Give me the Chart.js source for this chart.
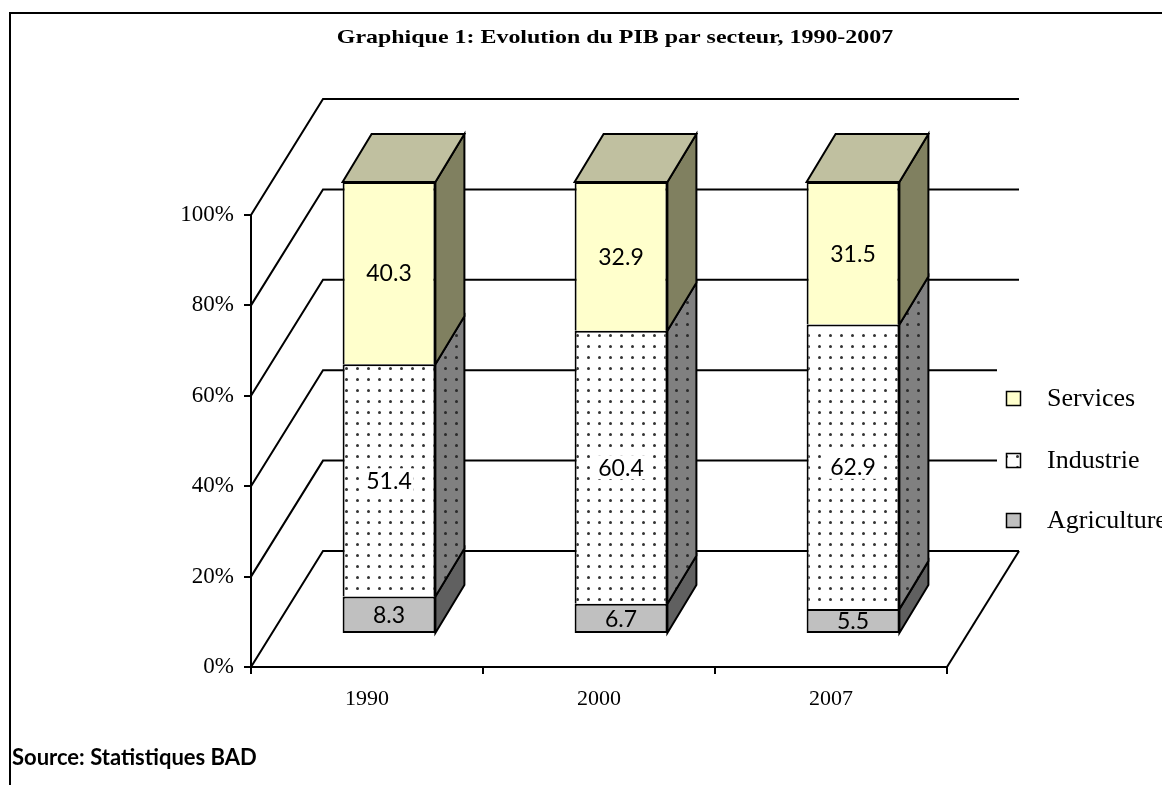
<!DOCTYPE html>
<html><head><meta charset="utf-8">
<script src="https://cdn.jsdelivr.net/npm/chart.js@4.4.1/dist/chart.umd.min.js"></script>
<style>html,body{margin:0;padding:0;background:#fff;overflow:hidden}canvas{display:block}</style>
</head><body>
<canvas id="c" width="1162" height="785"></canvas>
<script>
// ---- data ----
const categories = ['1990', '2000', '2007'];
const agriculture = [8.3, 6.7, 5.5];
const industrie = [51.4, 60.4, 62.9];
const services = [40.3, 32.9, 31.5];
const seriesNames = ['Agriculture', 'Industrie', 'Services'];
const yTicks = [0, 20, 40, 60, 80, 100];
const yTickLabels = ['0%', '20%', '40%', '60%', '80%', '100%'];
const titleText = 'Graphique 1: Evolution du PIB par secteur, 1990-2007';
const sourceText = 'Source: Statistiques BAD';

const seriesValues = [agriculture, industrie, services];
const totals = categories.map((_, i) => agriculture[i] + industrie[i] + services[i]);
const toPct = arr => arr.map((v, i) => v / totals[i] * 100);

// ---- style / geometry ----
const WALL = {dx: 72, dy: -116};
const BAR_OFF = {dx: 22, dy: -33};
const BAR_DEPTH = {dx: 29, dy: -48};

const canvas = document.getElementById('c');
const mainCtx = canvas.getContext('2d');
function dots(bg, dot) {
  const c = document.createElement('canvas'); c.width = 11; c.height = 11;
  const g = c.getContext('2d');
  g.fillStyle = bg; g.fillRect(0, 0, 11, 11);
  g.fillStyle = dot; g.beginPath(); g.arc(5.5, 5.5, 1.5, 0, Math.PI * 2); g.fill();
  return mainCtx.createPattern(c, 'repeat');
}
const frontFill = ['#C0C0C0', dots('#FFFFFF', '#333333'), '#FFFFCC'];
const sideFill = ['#606060', dots('#808080', '#2a2a2a'), '#808060'];
const topFill = '#C0C0A0';

function poly(ctx, pts, fill) {
  ctx.beginPath();
  ctx.moveTo(pts[0], pts[1]);
  for (let k = 2; k < pts.length; k += 2) ctx.lineTo(pts[k], pts[k + 1]);
  ctx.closePath();
  ctx.fillStyle = fill; ctx.fill();
  ctx.strokeStyle = '#000'; ctx.lineWidth = 2; ctx.lineJoin = 'miter'; ctx.stroke();
}

const threeD = {
  id: 'threeD',
  beforeDraw(chart) {
    const ctx = chart.ctx;
    ctx.save();
    ctx.fillStyle = '#fff'; ctx.fillRect(0, 0, chart.width, chart.height);
    ctx.strokeStyle = '#000'; ctx.lineWidth = 2;
    ctx.beginPath(); ctx.moveTo(10, chart.height); ctx.lineTo(10, 13); ctx.lineTo(chart.width, 13); ctx.stroke();
    // title
    ctx.translate(615, 43);
    ctx.scale(1.26, 1);
    ctx.font = 'bold 19px "Liberation Serif"';
    ctx.fillStyle = '#000'; ctx.textAlign = 'center'; ctx.textBaseline = 'alphabetic';
    ctx.fillText(titleText, 0, 0);
    ctx.restore();
  },
  beforeDatasetsDraw(chart) {
    const {ctx, chartArea: a, scales: {y}} = chart;
    ctx.save();
    ctx.strokeStyle = '#000'; ctx.lineWidth = 2; ctx.lineJoin = 'miter';
    const backL = a.left + WALL.dx, backR = a.right + WALL.dx;
    yTicks.forEach(v => {
      const py = y.getPixelForValue(v);
      ctx.beginPath(); ctx.moveTo(a.left, py); ctx.lineTo(backL, py + WALL.dy); ctx.lineTo(backR, py + WALL.dy); ctx.stroke();
    });
    const y0 = y.getPixelForValue(0);
    ctx.beginPath(); ctx.moveTo(a.right, y0); ctx.lineTo(backR, y0 + WALL.dy); ctx.stroke();
    ctx.restore();
    ctx.save();
    ctx.translate(BAR_OFF.dx, BAR_OFF.dy);
  },
  afterDatasetsDraw(chart) {
    const ctx = chart.ctx;
    const n = chart.data.datasets.length;
    const dx = BAR_DEPTH.dx, dy = BAR_DEPTH.dy;
    chart.data.datasets.forEach((ds, di) => {
      const meta = chart.getDatasetMeta(di);
      meta.data.forEach((bar) => {
        const p = bar.getProps(['x', 'y', 'base', 'width'], true);
        const l = p.x - p.width / 2, r = p.x + p.width / 2;
        poly(ctx, [r, p.y, r + dx, p.y + dy, r + dx, p.base + dy, r, p.base], sideFill[di]);
        if (di === n - 1) poly(ctx, [l, p.y, l + dx, p.y + dy, r + dx, p.y + dy, r, p.y], topFill);
      });
    });
    // value labels
    ctx.font = '23px Lato';
    ctx.textAlign = 'center'; ctx.textBaseline = 'middle';
    chart.data.datasets.forEach((ds, di) => {
      const meta = chart.getDatasetMeta(di);
      meta.data.forEach((bar, i) => {
        const p = bar.getProps(['x', 'y', 'base'], true);
        const cy = (p.y + p.base) / 2;
        const txt = seriesValues[di][i].toFixed(1);
        if (di === 1) {
          const w = ctx.measureText(txt).width + 4;
          ctx.fillStyle = '#fff'; ctx.fillRect(p.x - w / 2, cy - 12, w, 24);
        }
        ctx.fillStyle = '#000';
        ctx.fillText(txt, p.x, cy + 1);
      });
    });
    ctx.restore(); // translate
    // legend
    ctx.save();
    ctx.fillStyle = '#fff'; ctx.fillRect(997, 366, 165, 180);
    const legY = [520, 460, 398];
    ctx.font = '26px "Liberation Serif"';
    ctx.textAlign = 'left'; ctx.textBaseline = 'middle';
    seriesNames.forEach((name, di) => {
      const cy = legY[di];
      ctx.fillStyle = frontFill[di];
      ctx.fillRect(1006, cy - 7, 15, 15);
      ctx.strokeStyle = '#000'; ctx.lineWidth = 1.5;
      ctx.strokeRect(1006.5, cy - 6.5, 14, 14);
      ctx.fillStyle = '#000';
      ctx.fillText(name, 1047, cy + 1);
    });
    // source
    ctx.font = 'bold 22px Lato';
    ctx.textBaseline = 'alphabetic';
    ctx.fillText(sourceText, 12, 765);
    ctx.restore();
  }
};

new Chart(canvas, {
  type: 'bar',
  data: {
    labels: categories,
    datasets: seriesNames.map((name, di) => ({
      label: name,
      data: toPct(seriesValues[di]),
      backgroundColor: frontFill[di],
      borderColor: '#000',
      borderWidth: 2,
      borderSkipped: di === 0 ? false : 'start',
      barPercentage: 0.4,
      categoryPercentage: 1,
      clip: false
    }))
  },
  options: {
    responsive: false,
    animation: false,
    devicePixelRatio: 1,
    layout: {padding: {left: 0, right: 215, top: 215, bottom: 0}},
    plugins: {
      legend: {display: false},
      tooltip: {enabled: false},
      title: {display: false}
    },
    scales: {
      x: {
        stacked: true, offset: true,
        grid: {offset: true, drawOnChartArea: false, drawTicks: true, tickLength: 7, color: '#000', lineWidth: 2},
        border: {color: '#000', width: 2},
        ticks: {color: '#000', font: {family: 'Liberation Serif', size: 22}, padding: 12},
        afterFit(s) { s.height = 118; }
      },
      y: {
        stacked: true, min: 0, max: 100,
        grid: {drawOnChartArea: false, drawTicks: true, tickLength: 7, color: '#000', lineWidth: 2},
        border: {color: '#000', width: 2},
        ticks: {stepSize: 20, color: '#000', font: {family: 'Liberation Serif', size: 23}, padding: 10,
          callback: v => yTickLabels[yTicks.indexOf(v)]},
        afterFit(s) { s.width = 251; }
      }
    }
  },
  plugins: [threeD]
});
</script>
</body></html>
